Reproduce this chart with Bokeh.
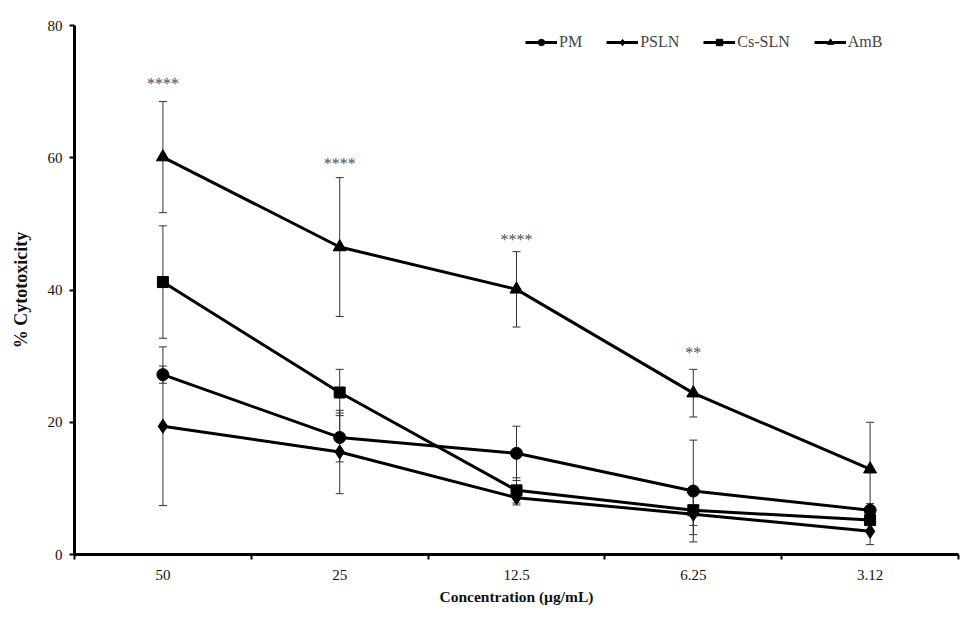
import numpy as np
from bokeh.plotting import figure
from bokeh.models import (ColumnDataSource, Range1d, FixedTicker, Whisker, TeeHead,
                          Legend, LegendItem)
from bokeh.core.properties import value
from bokeh.embed import file_html
from bokeh.resources import INLINE

# ---- data ----
conc = ["50", "25", "12.5", "6.25", "3.12"]
pm = [27.2, 17.7, 15.3, 9.6, 6.7]
pm_err = [1.3, 3.7, 4.1, 7.7, 1.0]
pslm = [19.4, 15.5, 8.6, 6.1, 3.5]
pslm_err = [12.0, 6.3, 1.1, 3.1, 2.0]
cs = [41.2, 24.5, 9.7, 6.7, 5.2]
cs_err = [8.5, 3.5, 1.9, 2.3, 1.5]
amb = [60.1, 46.5, 40.1, 24.4, 12.9]
amb_err = [8.4, 10.5, 5.7, 3.6, 7.1]
stars = ["****", "****", "****", "**", ""]
star_y = [71.2, 59.1, 47.6, 30.5, 0]
y_ticks = [0, 20, 40, 60, 80]

FONT = "Liberation Serif"
x = list(np.arange(len(conc)) + 0.5)

p = figure(width=960, height=607, output_backend="svg", toolbar_location=None,
           x_range=Range1d(0, len(conc)), y_range=Range1d(0, 80),
           min_border_left=74, min_border_right=2, min_border_top=25, min_border_bottom=52)
p.grid.visible = False
p.outline_line_color = None
p.background_fill_color = "white"

# axes
xa = p.xaxis[0]
xa.ticker = FixedTicker(ticks=x, minor_ticks=list(range(len(conc) + 1)))
xa.major_label_overrides = {float(xx): c for xx, c in zip(x, conc)}
xa.major_tick_in = 0
xa.major_tick_out = 0
xa.minor_tick_in = 0
xa.minor_tick_out = 5
xa.minor_tick_line_width = 2
xa.minor_tick_line_color = "black"
xa.axis_line_width = 3
xa.axis_line_color = "black"
xa.major_label_text_font = FONT
xa.major_label_text_font_size = "15px"
xa.major_label_text_color = "#111"
xa.major_label_standoff = 10
xa.axis_label = "Concentration (µg/mL)"
xa.axis_label_text_font = FONT
xa.axis_label_text_font_style = "bold"
xa.axis_label_text_font_size = "15.5px"
xa.axis_label_text_color = "#111"
xa.axis_label_standoff = 5

ya = p.yaxis[0]
ya.ticker = FixedTicker(ticks=y_ticks, minor_ticks=[])
ya.major_tick_in = 0
ya.major_tick_out = 5
ya.major_tick_line_width = 2
ya.axis_line_width = 3
ya.axis_line_color = "black"
ya.major_label_text_font = FONT
ya.major_label_text_font_size = "15px"
ya.major_label_text_color = "#111"
ya.major_label_standoff = 7
ya.axis_label = "% Cytotoxicity"
ya.axis_label_text_font = FONT
ya.axis_label_text_font_style = "bold"
ya.axis_label_text_font_size = "18px"
ya.axis_label_text_color = "#111"
ya.axis_label_standoff = 14

series = [
    ("PM", pm, pm_err, "circle", 12),
    ("PSLN", pslm, pslm_err, "diamond", 14),
    ("Cs-SLN", cs, cs_err, "square", 11),
    ("AmB", amb, amb_err, "triangle", 13),
]

items = []
for name, ys, err, marker, size in series:
    src = ColumnDataSource(dict(x=x, y=ys,
                                upper=[a + b for a, b in zip(ys, err)],
                                lower=[a - b for a, b in zip(ys, err)]))
    w = Whisker(source=src, base="x", upper="upper", lower="lower", dimension="height",
                line_color="#333", line_width=1,
                upper_head=TeeHead(size=8, line_color="#333", line_width=1),
                lower_head=TeeHead(size=8, line_color="#333", line_width=1))
    p.add_layout(w)
    r1 = p.line("x", "y", source=src, line_color="black", line_width=3)
    r2 = p.scatter("x", "y", source=src, marker=marker, size=size,
                   fill_color="black", line_color="black")
    items.append(LegendItem(label=name, renderers=[r1, r2]))

# significance stars
ssrc = ColumnDataSource(dict(x=x, y=star_y, t=stars))
p.text("x", "y", text="t", source=ssrc, text_align="center", text_baseline="middle",
       text_font=value(FONT), text_font_size="16px", text_color="#4a4d5a")

legend = Legend(items=items, orientation="horizontal", location=(451, 503),
                border_line_color=None, background_fill_alpha=0,
                label_text_font=FONT, label_text_font_size="16px",
                glyph_width=32, glyph_height=16, label_standoff=2, spacing=24,
                padding=2, margin=0)
p.add_layout(legend, "center")

open("out.html", "w").write(file_html(p, INLINE))
